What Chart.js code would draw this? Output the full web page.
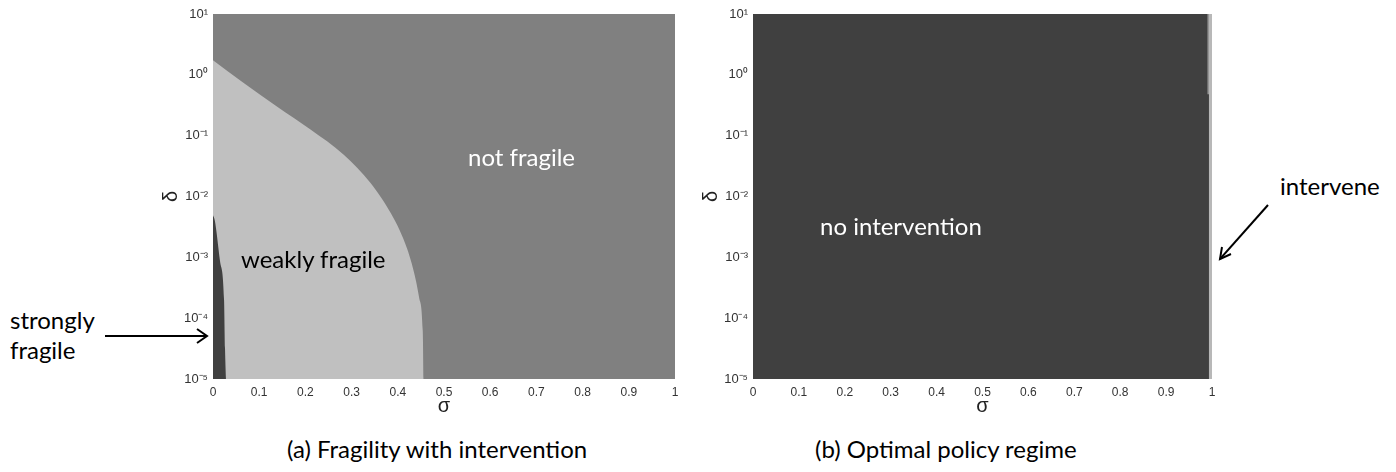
<!DOCTYPE html>
<html>
<head>
<meta charset="utf-8">
<script src="https://cdn.jsdelivr.net/npm/chart.js@4.4.1/dist/chart.umd.min.js"></script>
<style>
  body { margin: 0; background: #fff; }
  #page { position: relative; width: 1396px; height: 472px; overflow: hidden; }
  .box { position: absolute; top: 0; }
  .note { position: absolute; font-family: Lato, 'Open Sans', sans-serif; font-size: 24px; line-height: 28px; white-space: nowrap; }
  svg { position: absolute; left: 0; top: 0; }
</style>
</head>
<body>
<div id="page">
  <div class="box" style="left:157px"><canvas id="chartA" width="533" height="420"></canvas></div>
  <div class="box" style="left:697px"><canvas id="chartB" width="530" height="420"></canvas></div>

  <div class="note" style="left:468px;top:143px;color:#fff">not fragile</div>
  <div class="note" style="left:241px;top:245px;color:#000">weakly fragile</div>
  <div class="note" style="left:10px;top:306px;color:#000">strongly</div>
  <div class="note" style="left:10px;top:336px;color:#000">fragile</div>
  <div class="note" style="left:820px;top:212px;color:#fff">no intervention</div>
  <div class="note" style="left:1280px;top:172px;color:#000">intervene</div>
  <div class="note" style="left:287px;top:435px;color:#000">(a) Fragility with intervention</div>
  <div class="note" style="left:815px;top:435px;color:#000">(b) Optimal policy regime</div>

  <svg width="1396" height="472">
    <g stroke="#000" stroke-width="2" fill="none">
      <line x1="105" y1="336" x2="207" y2="336"/>
      <polyline points="197,329 207,336 197,343"/>
      <line x1="1268" y1="205" x2="1220" y2="259"/>
      <polyline points="1222,247 1220,259 1231,254"/>
    </g>
  </svg>
</div>

<script>
'use strict'

// axis ticks
var sigmaTicks = [0, 0.1, 0.2, 0.3, 0.4, 0.5, 0.6, 0.7, 0.8, 0.9, 1];
var sigmaTickLabels = ['0', '0.1', '0.2', '0.3', '0.4', '0.5', '0.6', '0.7', '0.8', '0.9', '1'];
var deltaTicks = [1e-5, 1e-4, 1e-3, 1e-2, 1e-1, 1, 10];
var deltaTickLabels = ['10\u207B\u2075', '10\u207B\u2074', '10\u207B\u00B3', '10\u207B\u00B2', '10\u207B\u00B9', '10\u2070', '10\u00B9'];

// (a) boundary of weakly fragile region
var weakSigma = [0, 0.065, 0.139, 0.211, 0.283, 0.341, 0.363, 0.385, 0.404, 0.420, 0.430, 0.439, 0.446, 0.454, 0.456];
var weakDelta = [1.74, 0.75, 0.30, 0.126, 0.0485, 0.0167, 0.0098, 0.0053, 0.0028, 0.0014, 0.0008, 0.00042, 0.00022, 0.000062, 0.00001];
// (a) boundary of strongly fragile region
var strongSigma = [0, 0.004, 0.015, 0.024, 0.026, 0.028];
var strongDelta = [0.0049, 0.004, 0.00089, 0.000195, 0.000032, 0.00001];

// (b) intervene strip near sigma = 1
var interveneSigma = [0.993, 1];
var interveneUpperSigma = [0.99, 0.993];
var interveneUpperFloor = 0.48;

var sigmaMin = 0, sigmaMax = 1;
var deltaMin = 1e-5, deltaMax = 10;

function pts(xs, ys) {
	return xs.map(function (x, i) { return { x: x, y: ys[i] }; });
}
function flat(xs, y) {
	return xs.map(function (x) { return { x: x, y: y }; });
}
function region(data, color, fill) {
	return {
		data: data,
		backgroundColor: color,
		borderColor: 'transparent',
		borderWidth: 0,
		pointRadius: 0,
		fill: fill || 'start',
		cubicInterpolationMode: 'monotone'
	};
}

function makeOptions() {
	return {
		responsive: false,
		animation: false,
		devicePixelRatio: 1,
		layout: { padding: { top: 14, right: 15, left: 0, bottom: 0 } },
		plugins: { legend: { display: false }, tooltip: { enabled: false } },
		scales: {
			x: {
				type: 'linear',
				min: sigmaMin,
				max: sigmaMax,
				grid: { display: false, drawTicks: false },
				border: { display: false },
				afterBuildTicks: function (s) { s.ticks = sigmaTicks.map(function (v) { return { value: v }; }); },
				afterFit: function (s) { s.height = 41; },
				ticks: {
					padding: 6,
					maxRotation: 0,
					autoSkip: false,
					color: '#333',
					font: { family: "'Liberation Sans', Arial, sans-serif", size: 12 },
					callback: function (v, i) { return sigmaTickLabels[i]; }
				},
				title: {
					display: true,
					text: '\u03C3',
					color: '#222',
					padding: { top: 2, bottom: 2 },
					font: { family: "'Liberation Sans', Arial, sans-serif", size: 20 }
				}
			},
			y: {
				type: 'logarithmic',
				min: deltaMin,
				max: deltaMax,
				grid: { display: false, drawTicks: false },
				border: { display: false },
				afterBuildTicks: function (s) { s.ticks = deltaTicks.map(function (v) { return { value: v }; }); },
				afterFit: function (s) { s.width = 56; },
				ticks: {
					padding: 5,
					autoSkip: false,
					color: '#333',
					font: { family: "'Liberation Sans', Arial, sans-serif", size: 13 },
					callback: function (v, i) { return deltaTickLabels[i]; }
				},
				title: {
					display: true,
					text: '\u03B4',
					color: '#222',
					padding: { top: 2, bottom: 2 },
					font: { family: "'Liberation Sans', Arial, sans-serif", size: 20 }
				}
			}
		}
	};
}

// (a) Fragility with intervention
new Chart(document.getElementById('chartA'), {
	type: 'line',
	data: {
		datasets: [
			region(pts(strongSigma, strongDelta), '#404040'),
			region(pts(weakSigma, weakDelta), '#c0c0c0'),
			region(flat([sigmaMin, sigmaMax], deltaMax), '#808080')
		]
	},
	options: makeOptions()
});

// (b) Optimal policy regime
new Chart(document.getElementById('chartB'), {
	type: 'line',
	data: {
		datasets: [
			region(flat(interveneUpperSigma, deltaMax), '#c8c8c8', { value: interveneUpperFloor }),
			region(flat(interveneSigma, deltaMax), '#b8b8b8'),
			region(flat([sigmaMin, sigmaMax], deltaMax), '#404040')
		]
	},
	options: makeOptions()
});
</script>
</body>
</html>
